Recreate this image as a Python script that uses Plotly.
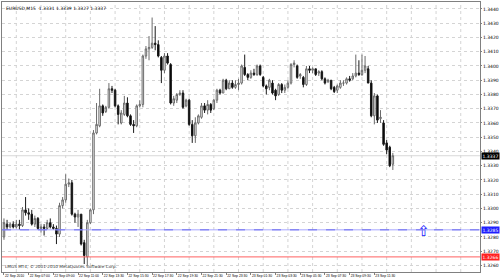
import plotly.graph_objects as go

# ---------------- data ----------------
bars = list(range(127))

open_ = [1.3280,1.3289,1.3287,1.3289,1.3287,1.3289,1.3288,1.3299,1.3297,1.3296,
         1.3289,1.3293,1.3286,1.3287,1.3286,1.3290,1.3287,1.3286,1.3282,1.3302,
         1.3306,1.3317,1.3318,1.3296,1.3294,1.3296,1.3276,1.3266,1.3290,1.3299,
         1.3353,1.3358,1.3372,1.3368,1.3371,1.3384,1.3383,1.3372,1.3360,1.3366,
         1.3374,1.3365,1.3359,1.3358,1.3372,1.3373,1.3407,1.3412,1.3413,1.3416,
         1.3415,1.3406,1.3397,1.3407,1.3401,1.3374,1.3376,1.3380,1.3381,1.3372,
         1.3376,1.3359,1.3351,1.3360,1.3364,1.3372,1.3369,1.3373,1.3370,1.3376,
         1.3383,1.3381,1.3390,1.3384,1.3388,1.3385,1.3387,1.3388,1.3399,1.3394,
         1.3392,1.3395,1.3394,1.3400,1.3392,1.3386,1.3385,1.3388,1.3383,1.3380,
         1.3387,1.3383,1.3385,1.3388,1.3401,1.3400,1.3393,1.3392,1.3387,1.3398,
         1.3397,1.3398,1.3395,1.3396,1.3391,1.3389,1.3390,1.3385,1.3383,1.3385,
         1.3388,1.3388,1.3391,1.3391,1.3393,1.3395,1.3394,1.3397,1.3398,1.3388,
         1.3365,1.3379,1.3363,1.3360,1.3346,1.3343,1.3331]

high = [1.3293,1.3292,1.3290,1.3291,1.3292,1.3292,1.3301,1.3308,1.3300,1.3299,
        1.3295,1.3294,1.3289,1.3289,1.3292,1.3293,1.3289,1.3288,1.3304,1.3308,
        1.3324,1.3321,1.3320,1.3297,1.3299,1.3296,1.3278,1.3292,1.3300,1.3355,
        1.3374,1.3384,1.3373,1.3372,1.3388,1.3386,1.3384,1.3373,1.3369,1.3379,
        1.3378,1.3366,1.3362,1.3373,1.3376,1.3408,1.3414,1.3421,1.3434,1.3428,
        1.3418,1.3407,1.3409,1.3409,1.3402,1.3379,1.3381,1.3383,1.3383,1.3377,
        1.3377,1.3362,1.3364,1.3366,1.3374,1.3374,1.3376,1.3374,1.3377,1.3384,
        1.3384,1.3391,1.3391,1.3390,1.3390,1.3390,1.3391,1.3401,1.3408,1.3395,
        1.3397,1.3398,1.3401,1.3401,1.3393,1.3387,1.3391,1.3390,1.3384,1.3388,
        1.3388,1.3387,1.3390,1.3402,1.3404,1.3401,1.3395,1.3393,1.3400,1.3400,
        1.3399,1.3398,1.3397,1.3397,1.3392,1.3391,1.3390,1.3386,1.3387,1.3390,
        1.3390,1.3392,1.3393,1.3395,1.3408,1.3404,1.3408,1.3407,1.3400,1.3390,
        1.3381,1.3380,1.3369,1.3362,1.3348,1.3344,1.3339]

low = [1.3278,1.3285,1.3286,1.3286,1.3286,1.3285,1.3287,1.3295,1.3292,1.3288,
       1.3287,1.3285,1.3283,1.3281,1.3285,1.3286,1.3285,1.3275,1.3280,1.3300,
       1.3304,1.3315,1.3295,1.3290,1.3287,1.3274,1.3261,1.3260,1.3289,1.3296,
       1.3352,1.3357,1.3365,1.3367,1.3370,1.3381,1.3371,1.3359,1.3359,1.3365,
       1.3364,1.3358,1.3353,1.3357,1.3371,1.3371,1.3405,1.3404,1.3412,1.3411,
       1.3406,1.3388,1.3395,1.3401,1.3373,1.3372,1.3374,1.3379,1.3370,1.3371,
       1.3358,1.3346,1.3346,1.3359,1.3363,1.3367,1.3366,1.3367,1.3369,1.3374,
       1.3380,1.3381,1.3383,1.3384,1.3384,1.3384,1.3383,1.3387,1.3393,1.3390,
       1.3391,1.3393,1.3393,1.3393,1.3385,1.3380,1.3383,1.3380,1.3376,1.3379,
       1.3381,1.3381,1.3384,1.3387,1.3399,1.3391,1.3391,1.3385,1.3386,1.3395,
       1.3395,1.3393,1.3393,1.3390,1.3387,1.3388,1.3383,1.3381,1.3381,1.3384,
       1.3386,1.3387,1.3389,1.3390,1.3392,1.3393,1.3393,1.3395,1.3388,1.3364,
       1.3359,1.3360,1.3360,1.3344,1.3338,1.3329,1.3327]

close = [1.3290,1.3287,1.3289,1.3287,1.3289,1.3288,1.3299,1.3297,1.3296,1.3289,
         1.3293,1.3286,1.3287,1.3286,1.3290,1.3287,1.3286,1.3282,1.3302,1.3306,
         1.3317,1.3318,1.3296,1.3294,1.3296,1.3275,1.3267,1.3290,1.3299,1.3353,
         1.3359,1.3372,1.3367,1.3371,1.3384,1.3383,1.3372,1.3366,1.3367,1.3374,
         1.3365,1.3359,1.3358,1.3372,1.3373,1.3407,1.3412,1.3413,1.3416,1.3415,
         1.3407,1.3397,1.3407,1.3402,1.3374,1.3377,1.3380,1.3381,1.3371,1.3376,
         1.3359,1.3351,1.3360,1.3365,1.3372,1.3369,1.3373,1.3369,1.3376,1.3383,
         1.3381,1.3390,1.3384,1.3388,1.3385,1.3387,1.3388,1.3400,1.3394,1.3392,
         1.3395,1.3394,1.3400,1.3394,1.3386,1.3384,1.3390,1.3381,1.3379,1.3387,
         1.3383,1.3385,1.3388,1.3401,1.3402,1.3392,1.3394,1.3387,1.3398,1.3397,
         1.3398,1.3394,1.3396,1.3391,1.3388,1.3390,1.3384,1.3382,1.3386,1.3388,
         1.3388,1.3391,1.3390,1.3393,1.3395,1.3394,1.3397,1.3400,1.3388,1.3365,
         1.3379,1.3362,1.3364,1.3345,1.3341,1.3330,1.3337]

time_label_bars = [0, 8, 16, 24, 32, 40, 48, 56, 64, 72, 80, 88, 96, 104, 112, 120]
time_labels = ["22 Sep 2010", "22 Sep 07:00", "22 Sep 09:00", "22 Sep 11:00",
               "22 Sep 13:30", "22 Sep 15:30", "22 Sep 17:30", "22 Sep 19:30",
               "22 Sep 21:30", "22 Sep 23:30", "23 Sep 01:30", "23 Sep 03:30",
               "23 Sep 05:30", "23 Sep 07:30", "23 Sep 09:30", "23 Sep 11:30"]
grid_bars = [4, 12, 20, 28, 36, 44, 52, 60, 68, 76, 84, 92, 100, 108, 116,
             124, 132, 140, 148]

price_ticks = [1.3440, 1.3430, 1.3420, 1.3410, 1.3400, 1.3390, 1.3380, 1.3370,
               1.3360, 1.3350, 1.3340, 1.3330, 1.3320, 1.3310, 1.3300, 1.3290,
               1.3280, 1.3270, 1.3260]
price_tick_text = ["1.3440", "1.3430", "1.3420", "1.3410", "1.3400", "1.3390",
                   "1.3380", "1.3370", "1.3360", "1.3350", "1.3340", "1.3330",
                   "1.3320", "1.3310", "1.3300", "1.3290", "1.3280", "1.3270",
                   "1.3260"]

bid_price = 1.3337
pending_price = 1.3285      # blue order line
stop_price = 1.3266         # red line
arrow_bar = 136
arrow_price = 1.3283

x_range = [-0.64, 154.24]
y_range = [1.32554, 1.34449]

FONT = "DejaVu Sans"
SMALL = "Liberation Sans"

fig = go.Figure()

fig.add_trace(go.Candlestick(
    x=bars, open=open_, high=high, low=low, close=close,
    increasing=dict(line=dict(color="#6a6a6a", width=1), fillcolor="#ffffff"),
    decreasing=dict(line=dict(color="#1a1a1a", width=1), fillcolor="#000000"),
    whiskerwidth=0, showlegend=False, hoverinfo="skip"))

# arrow marker (buy stop)
fig.add_trace(go.Scatter(
    x=[arrow_bar], y=[arrow_price], mode="text", text=["⇧"],
    textfont=dict(family=FONT, size=15, color="#1818ff"),
    textposition="middle center", showlegend=False, hoverinfo="skip"))

shapes = []
for gb in grid_bars:
    shapes.append(dict(type="line", xref="x", yref="paper", x0=gb, x1=gb,
                       y0=0, y1=1, layer="below",
                       line=dict(color="#d4d4d4", width=1, dash="dot")))
# bid line
shapes.append(dict(type="line", xref="paper", yref="y", x0=0, x1=1,
                   y0=bid_price, y1=bid_price, layer="below",
                   line=dict(color="#d8d8d8", width=1)))
# pending order line
shapes.append(dict(type="line", xref="paper", yref="y", x0=0, x1=1,
                   y0=pending_price, y1=pending_price,
                   line=dict(color="#a8a8ff", width=1)))
shapes.append(dict(type="line", xref="paper", yref="y", x0=0, x1=1,
                   y0=pending_price, y1=pending_price,
                   line=dict(color="#6a6aee", width=1, dash="dash")))
# stop line
shapes.append(dict(type="line", xref="paper", yref="y", x0=0, x1=1,
                   y0=stop_price, y1=stop_price,
                   line=dict(color="#ff6060", width=1)))

annotations = [
    dict(xref="paper", yref="paper", x=0.004, y=0.992, xanchor="left",
         yanchor="top", showarrow=False,
         text="EURUSD,M15  %.4f %.4f %.4f %.4f" % (open_[-1], high[-1], low[-1], close[-1]),
         font=dict(family=FONT, size=4.5, color="#000000")),
    dict(xref="paper", yref="paper", x=0.003, y=0.002, xanchor="left",
         yanchor="bottom", showarrow=False,
         text="LMGS MT4, © 2001-2010 MetaQuotes Software Corp.",
         font=dict(family=FONT, size=4.2, color="#303030")),
]
for price, bg in [(bid_price, "#000000"), (pending_price, "#2020ff"),
                  (stop_price, "#ff2020")]:
    annotations.append(dict(xref="paper", yref="y", x=1.0, y=price,
                            xanchor="left", yanchor="middle", showarrow=False,
                            text="%.4f" % price, bgcolor=bg, borderpad=0.5,
                            xshift=1,
                            font=dict(family=FONT, size=4.5, color="#ffffff")))

fig.update_layout(
    width=500, height=279,
    margin=dict(l=1, r=15, t=1, b=7),
    paper_bgcolor="#ffffff", plot_bgcolor="#ffffff",
    shapes=shapes, annotations=annotations,
    xaxis=dict(range=x_range, rangeslider=dict(visible=False),
               tickmode="array", tickvals=time_label_bars, ticktext=time_labels,
               ticklabelposition="outside right", tickangle=0,
               ticks="outside", ticklen=2, tickcolor="#808080",
               tickfont=dict(family=SMALL, size=3.4, color="#000000"),
               showgrid=False, zeroline=False,
               showline=True, linecolor="#808080", linewidth=1, mirror=True),
    yaxis=dict(range=y_range, side="right",
               tickmode="array", tickvals=price_ticks, ticktext=price_tick_text,
               ticks="outside", ticklen=1, tickcolor="#808080",
               tickfont=dict(family=FONT, size=4.5, color="#000000"),
               showgrid=True, gridcolor="#d4d4d4", griddash="dot", gridwidth=1,
               zeroline=False,
               showline=True, linecolor="#808080", linewidth=1, mirror=True),
)

fig.write_html("out.html")
